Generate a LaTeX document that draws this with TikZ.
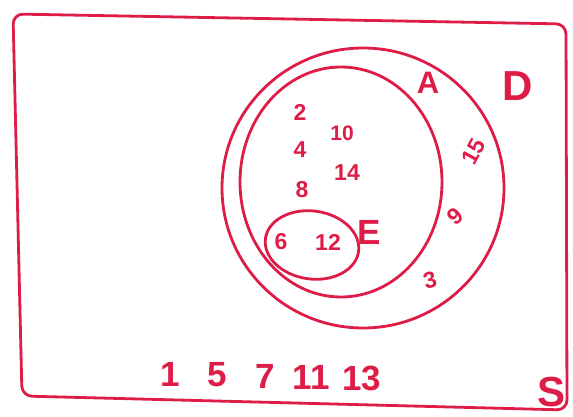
\documentclass[tikz,border=0pt]{standalone}
\usepackage{fontspec}
\setmainfont{Liberation Sans}
\usetikzlibrary{shapes.geometric}
\definecolor{pen}{RGB}{222,28,72}

\begin{document}
\begin{tikzpicture}[
x=1pt, y=-1pt,
every node/.style={text=pen, inner sep=0pt},
setline/.style={draw=pen, line width=2.8pt, line join=round, line cap=round},
setshape/.style={setline, ellipse, fill=none},
elem/.style={font=\fontsize{23}{23}\selectfont\bfseries},
outer/.style={font=\fontsize{35}{35}\selectfont\bfseries},
setname/.style={font=\fontsize{42}{42}\selectfont\bfseries}
]
\useasboundingbox (0,0) rectangle (573,417);

% universal set S
\draw[setline, rounded corners=10pt] (13,14) -- (566,24) -- (567,410) -- (22,396) -- cycle;

% sets D, A, E
\node (setD) [setshape, minimum width=282pt, minimum height=280pt] at (363,188) {};
\node (setA) [setshape, minimum width=202pt, minimum height=230pt] at (341,182) {};
\node (setE) [setshape, minimum width=94pt, minimum height=68pt, rotate=-8] at (312,245) {};

% set names
\node (nameA) [setname, font=\fontsize{31}{31}\selectfont\bfseries] at (428,83) {A};
\node (nameD) [setname] at (518,86) {D};
\node (nameE) [setname, font=\fontsize{35}{35}\selectfont\bfseries] at (369,232) {E};
\node (nameS) [setname] at (552,392) {S};

% elements of A only
\node (n2) [elem] at (300,112) {2};
\node (n4) [elem] at (300,150) {4};
\node (n8) [elem] at (302,190) {8};
\node (n10) [elem, font=\fontsize{21}{21}\selectfont\bfseries] at (342,133) {10};
\node (n14) [elem] at (347,173) {14};

% elements of E
\node (n6) [elem] at (281,242) {6};
\node (n12) [elem] at (328,242) {12};

% elements of D only
\node (n15) [elem, rotate=62] at (474,152) {15};
\node (n9) [elem, rotate=40] at (455,216) {9};
\node (n3) [elem, rotate=15] at (430,280) {3};

% elements of S only
\node (n1) [outer] at (170,374) {1};
\node (n5) [outer] at (217,375) {5};
\node (n7) [outer] at (265,376) {7};
\node (n11) [outer] at (311,377) {11};
\node (n13) [outer] at (362,378) {13};

\end{tikzpicture}
\end{document}
